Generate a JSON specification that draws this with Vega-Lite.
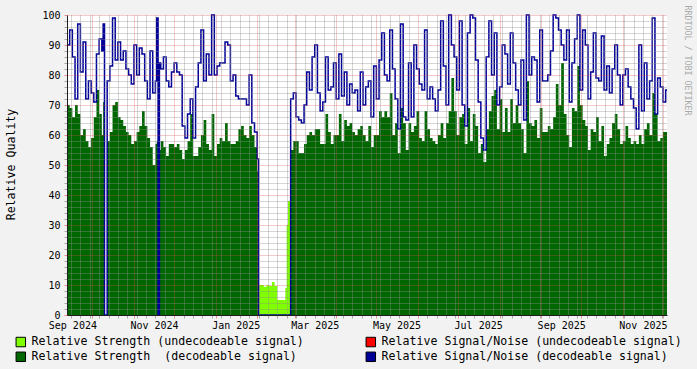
{
"$schema": "https://vega.github.io/schema/vega-lite/v6.json",
"width": 600, "height": 300,
"autosize": {"type": "none"},
"padding": {"left": 67, "top": 15, "right": 30, "bottom": 54},
"background": "#f2f2f2",
"config": {"view": {"fill": "#ffffff", "stroke": null}, "font": "DejaVu Sans Mono"},
"datasets": {
"main": [
{"date":"2024-09-12","strength":70,"snr":90},{"date":"2024-09-14","strength":69,"snr":95},{"date":"2024-09-16","strength":66,"snr":86},{"date":"2024-09-18","strength":70,"snr":72},{"date":"2024-09-20","strength":67,"snr":97},{"date":"2024-09-22","strength":60,"snr":81},{"date":"2024-09-24","strength":62,"snr":91},{"date":"2024-09-26","strength":58,"snr":72},{"date":"2024-09-28","strength":56,"snr":78},{"date":"2024-09-30","strength":59,"snr":74},
{"date":"2024-10-02","strength":66,"snr":71},{"date":"2024-10-04","strength":75,"snr":87},{"date":"2024-10-06","strength":67,"snr":92},{"date":"2024-10-08","strength":60,"snr":88},{"date":"2024-10-09","strength":71,"snr":97},{"date":"2024-10-10","strength":0,"snr":0},{"date":"2024-10-12","strength":58,"snr":78},{"date":"2024-10-14","strength":61,"snr":83},{"date":"2024-10-16","strength":70,"snr":99},{"date":"2024-10-18","strength":71,"snr":85},{"date":"2024-10-20","strength":66,"snr":91},{"date":"2024-10-22","strength":65,"snr":85},{"date":"2024-10-24","strength":63,"snr":88},{"date":"2024-10-26","strength":61,"snr":82},{"date":"2024-10-28","strength":60,"snr":80},{"date":"2024-10-30","strength":57,"snr":77},
{"date":"2024-11-01","strength":58,"snr":90},{"date":"2024-11-03","strength":61,"snr":80},{"date":"2024-11-05","strength":63,"snr":89},{"date":"2024-11-07","strength":68,"snr":87},{"date":"2024-11-09","strength":63,"snr":78},{"date":"2024-11-11","strength":59,"snr":72},{"date":"2024-11-13","strength":56,"snr":88},{"date":"2024-11-15","strength":50,"snr":74},{"date":"2024-11-17","strength":57,"snr":78},{"date":"2024-11-18","strength":58,"snr":99},{"date":"2024-11-19","strength":0,"snr":0},{"date":"2024-11-20","strength":55,"snr":84},{"date":"2024-11-21","strength":58,"snr":82},{"date":"2024-11-23","strength":56,"snr":86},{"date":"2024-11-25","strength":53,"snr":78},{"date":"2024-11-27","strength":57,"snr":76},{"date":"2024-11-29","strength":57,"snr":81},
{"date":"2024-12-01","strength":56,"snr":84},{"date":"2024-12-03","strength":57,"snr":81},{"date":"2024-12-05","strength":55,"snr":80},{"date":"2024-12-07","strength":52,"snr":63},{"date":"2024-12-09","strength":55,"snr":59},{"date":"2024-12-11","strength":58,"snr":67},{"date":"2024-12-13","strength":67,"snr":72},{"date":"2024-12-15","strength":53,"snr":59},{"date":"2024-12-17","strength":53,"snr":76},{"date":"2024-12-19","strength":56,"snr":84},{"date":"2024-12-21","strength":60,"snr":95},{"date":"2024-12-23","strength":65,"snr":78},{"date":"2024-12-25","strength":57,"snr":87},{"date":"2024-12-27","strength":55,"snr":80},{"date":"2024-12-29","strength":67,"snr":100},{"date":"2024-12-31","strength":53,"snr":80},
{"date":"2025-01-02","strength":57,"snr":83},{"date":"2025-01-04","strength":59,"snr":84},{"date":"2025-01-06","strength":58,"snr":84},{"date":"2025-01-08","strength":64,"snr":91},{"date":"2025-01-10","strength":58,"snr":90},{"date":"2025-01-12","strength":57,"snr":78},{"date":"2025-01-14","strength":57,"snr":80},{"date":"2025-01-16","strength":58,"snr":73},{"date":"2025-01-18","strength":62,"snr":72},{"date":"2025-01-20","strength":63,"snr":72},{"date":"2025-01-22","strength":60,"snr":72},{"date":"2025-01-24","strength":59,"snr":70},{"date":"2025-01-26","strength":63,"snr":80},{"date":"2025-01-28","strength":60,"snr":64},{"date":"2025-01-30","strength":56,"snr":61},
{"date":"2025-02-01","strength":48,"snr":52},{"date":"2025-02-02","strength":0,"snr":0},{"date":"2025-02-26","strength":55,"snr":72},{"date":"2025-02-28","strength":58,"snr":74},
{"date":"2025-03-02","strength":58,"snr":66},{"date":"2025-03-04","strength":54,"snr":65},{"date":"2025-03-06","strength":54,"snr":64},{"date":"2025-03-08","strength":57,"snr":70},{"date":"2025-03-10","strength":60,"snr":81},{"date":"2025-03-12","strength":61,"snr":75},{"date":"2025-03-14","strength":60,"snr":86},{"date":"2025-03-16","strength":62,"snr":90},{"date":"2025-03-18","strength":62,"snr":74},{"date":"2025-03-20","strength":57,"snr":68},{"date":"2025-03-22","strength":57,"snr":71},{"date":"2025-03-24","strength":67,"snr":86},{"date":"2025-03-26","strength":61,"snr":75},{"date":"2025-03-28","strength":57,"snr":76},{"date":"2025-03-30","strength":60,"snr":84},
{"date":"2025-04-01","strength":60,"snr":72},{"date":"2025-04-03","strength":67,"snr":87},{"date":"2025-04-05","strength":58,"snr":73},{"date":"2025-04-07","strength":65,"snr":81},{"date":"2025-04-09","strength":63,"snr":70},{"date":"2025-04-11","strength":64,"snr":77},{"date":"2025-04-13","strength":61,"snr":74},{"date":"2025-04-15","strength":60,"snr":75},{"date":"2025-04-17","strength":62,"snr":68},{"date":"2025-04-19","strength":63,"snr":81},{"date":"2025-04-21","strength":60,"snr":70},{"date":"2025-04-23","strength":58,"snr":76},{"date":"2025-04-25","strength":63,"snr":78},{"date":"2025-04-27","strength":56,"snr":66},{"date":"2025-04-29","strength":60,"snr":83},
{"date":"2025-05-01","strength":60,"snr":72},{"date":"2025-05-03","strength":68,"snr":85},{"date":"2025-05-05","strength":66,"snr":94},{"date":"2025-05-07","strength":68,"snr":80},{"date":"2025-05-09","strength":66,"snr":78},{"date":"2025-05-11","strength":74,"snr":95},{"date":"2025-05-13","strength":60,"snr":82},{"date":"2025-05-15","strength":64,"snr":72},{"date":"2025-05-17","strength":54,"snr":62},{"date":"2025-05-19","strength":69,"snr":97},{"date":"2025-05-21","strength":64,"snr":66},{"date":"2025-05-23","strength":55,"snr":65},{"date":"2025-05-25","strength":64,"snr":84},{"date":"2025-05-27","strength":61,"snr":66},{"date":"2025-05-29","strength":63,"snr":90},{"date":"2025-05-31","strength":68,"snr":82},
{"date":"2025-06-02","strength":59,"snr":77},{"date":"2025-06-04","strength":58,"snr":75},{"date":"2025-06-06","strength":68,"snr":95},{"date":"2025-06-08","strength":62,"snr":72},{"date":"2025-06-10","strength":59,"snr":76},{"date":"2025-06-12","strength":58,"snr":72},{"date":"2025-06-14","strength":57,"snr":68},{"date":"2025-06-16","strength":60,"snr":75},{"date":"2025-06-18","strength":64,"snr":98},{"date":"2025-06-20","strength":59,"snr":83},{"date":"2025-06-22","strength":64,"snr":70},{"date":"2025-06-24","strength":68,"snr":100},{"date":"2025-06-26","strength":79,"snr":90},{"date":"2025-06-28","strength":68,"snr":86},{"date":"2025-06-30","strength":60,"snr":75},
{"date":"2025-07-02","strength":66,"snr":98},{"date":"2025-07-04","strength":67,"snr":70},{"date":"2025-07-06","strength":57,"snr":63},{"date":"2025-07-08","strength":69,"snr":94},{"date":"2025-07-10","strength":58,"snr":100},{"date":"2025-07-12","strength":67,"snr":99},{"date":"2025-07-14","strength":63,"snr":85},{"date":"2025-07-16","strength":54,"snr":71},{"date":"2025-07-18","strength":57,"snr":59},{"date":"2025-07-20","strength":51,"snr":55},{"date":"2025-07-22","strength":62,"snr":86},{"date":"2025-07-24","strength":68,"snr":98},{"date":"2025-07-26","strength":73,"snr":80},{"date":"2025-07-28","strength":75,"snr":94},{"date":"2025-07-30","strength":62,"snr":70},
{"date":"2025-08-01","strength":72,"snr":76},{"date":"2025-08-03","strength":61,"snr":90},{"date":"2025-08-05","strength":69,"snr":87},{"date":"2025-08-07","strength":61,"snr":77},{"date":"2025-08-09","strength":72,"snr":94},{"date":"2025-08-11","strength":64,"snr":84},{"date":"2025-08-13","strength":70,"snr":75},{"date":"2025-08-15","strength":64,"snr":70},{"date":"2025-08-17","strength":62,"snr":85},{"date":"2025-08-19","strength":54,"snr":65},{"date":"2025-08-21","strength":78,"snr":100},{"date":"2025-08-23","strength":64,"snr":80},{"date":"2025-08-25","strength":63,"snr":86},{"date":"2025-08-27","strength":65,"snr":85},{"date":"2025-08-29","strength":59,"snr":71},{"date":"2025-08-31","strength":69,"snr":95},
{"date":"2025-09-02","strength":61,"snr":78},{"date":"2025-09-04","strength":61,"snr":78},{"date":"2025-09-06","strength":63,"snr":80},{"date":"2025-09-08","strength":62,"snr":88},{"date":"2025-09-10","strength":66,"snr":100},{"date":"2025-09-12","strength":77,"snr":99},{"date":"2025-09-14","strength":70,"snr":95},{"date":"2025-09-16","strength":84,"snr":90},{"date":"2025-09-18","strength":67,"snr":85},{"date":"2025-09-20","strength":60,"snr":95},{"date":"2025-09-22","strength":56,"snr":71},{"date":"2025-09-24","strength":69,"snr":84},{"date":"2025-09-26","strength":68,"snr":92},{"date":"2025-09-28","strength":83,"snr":100},{"date":"2025-09-30","strength":70,"snr":75},
{"date":"2025-10-02","strength":65,"snr":95},{"date":"2025-10-04","strength":63,"snr":90},{"date":"2025-10-06","strength":55,"snr":72},{"date":"2025-10-08","strength":62,"snr":81},{"date":"2025-10-10","strength":61,"snr":94},{"date":"2025-10-12","strength":66,"snr":79},{"date":"2025-10-14","strength":58,"snr":78},{"date":"2025-10-16","strength":63,"snr":93},{"date":"2025-10-18","strength":53,"snr":75},{"date":"2025-10-20","strength":57,"snr":83},{"date":"2025-10-22","strength":59,"snr":74},{"date":"2025-10-24","strength":64,"snr":82},{"date":"2025-10-26","strength":67,"snr":90},{"date":"2025-10-28","strength":62,"snr":80},{"date":"2025-10-30","strength":57,"snr":70},
{"date":"2025-11-01","strength":58,"snr":80},{"date":"2025-11-03","strength":63,"snr":82},{"date":"2025-11-05","strength":59,"snr":76},{"date":"2025-11-07","strength":57,"snr":72},{"date":"2025-11-09","strength":58,"snr":69},{"date":"2025-11-11","strength":57,"snr":62},{"date":"2025-11-13","strength":60,"snr":90},{"date":"2025-11-15","strength":57,"snr":68},{"date":"2025-11-17","strength":62,"snr":84},{"date":"2025-11-19","strength":64,"snr":72},{"date":"2025-11-21","strength":60,"snr":78},{"date":"2025-11-23","strength":74,"snr":99},{"date":"2025-11-25","strength":67,"snr":67},{"date":"2025-11-27","strength":58,"snr":79},{"date":"2025-11-29","strength":59,"snr":76},
{"date":"2025-12-01","strength":61,"snr":71},{"date":"2025-12-03","strength":61,"snr":75},{"date":"2025-12-04","strength":61,"snr":75}
],
"weak": [
{"date":"2025-02-02","strength":10},{"date":"2025-02-04","strength":10},{"date":"2025-02-06","strength":9.4},{"date":"2025-02-08","strength":10},{"date":"2025-02-10","strength":9.7},{"date":"2025-02-12","strength":11},{"date":"2025-02-14","strength":9.7},{"date":"2025-02-16","strength":5},{"date":"2025-02-22","strength":9},{"date":"2025-02-23","strength":30},{"date":"2025-02-24","strength":38},{"date":"2025-02-26","strength":0}
]
},
"resolve": {"axis": {"x": "independent", "y": "independent"}},
"layer": [
{
"data": {"name": "main"},
"mark": {"type": "area", "interpolate": "step-after", "opacity": 1},
"encoding": {
"x": {"field": "date", "type": "temporal",
"scale": {"type": "utc", "domain": [{"year":2024,"month":9,"date":12,"utc":true}, {"year":2025,"month":12,"date":4,"utc":true}]},
"axis": {
"orient": "bottom", "title": null, "zindex": 1, "labels": false,
"values": {"expr": "[utc(2024,9,1),utc(2024,10,1),utc(2024,11,1),utc(2025,0,1),utc(2025,1,1),utc(2025,2,1),utc(2025,3,1),utc(2025,4,1),utc(2025,5,1),utc(2025,6,1),utc(2025,7,1),utc(2025,8,1),utc(2025,9,1),utc(2025,10,1),utc(2025,11,1),utc(2024,8,15),utc(2024,8,22),utc(2024,8,29),utc(2024,8,36),utc(2024,8,43),utc(2024,8,50),utc(2024,8,57),utc(2024,8,64),utc(2024,8,71),utc(2024,8,78),utc(2024,8,85),utc(2024,8,99),utc(2024,8,106),utc(2024,8,113),utc(2024,8,120),utc(2024,8,127),utc(2024,8,134),utc(2024,8,141),utc(2024,8,148),utc(2024,8,155),utc(2024,8,162),utc(2024,8,169),utc(2024,8,176),utc(2024,8,183),utc(2024,8,190),utc(2024,8,197),utc(2024,8,204),utc(2024,8,211),utc(2024,8,218),utc(2024,8,225),utc(2024,8,232),utc(2024,8,239),utc(2024,8,246),utc(2024,8,253),utc(2024,8,260),utc(2024,8,267),utc(2024,8,281),utc(2024,8,288),utc(2024,8,295),utc(2024,8,302),utc(2024,8,309),utc(2024,8,316),utc(2024,8,323),utc(2024,8,330),utc(2024,8,337),utc(2024,8,344),utc(2024,8,351),utc(2024,8,358),utc(2024,8,365),utc(2024,8,372),utc(2024,8,379),utc(2024,8,386),utc(2024,8,393),utc(2024,8,400),utc(2024,8,407),utc(2024,8,414),utc(2024,8,421),utc(2024,8,428),utc(2024,8,435),utc(2024,8,442),utc(2024,8,449),utc(2024,8,456)]"},
"gridDash": [1, 1],
"gridColor": {"condition": {"test": "utcdate(datum.value) == 1", "value": "rgba(222,79,79,0.6)"}, "value": "rgba(143,143,143,0.75)"},
"tickSize": 3,
"tickColor": {"condition": {"test": "utcdate(datum.value) == 1", "value": "rgba(222,79,79,0.6)"}, "value": "rgba(143,143,143,0.75)"},
"domainColor": "#1f1f1f"
}},
"y": {"field": "strength", "type": "quantitative",
"scale": {"domain": [0, 100], "nice": false},
"axis": {
"orient": "left", "zindex": 1,
"values": [0,2,4,6,8,10,12,14,16,18,20,22,24,26,28,30,32,34,36,38,40,42,44,46,48,50,52,54,56,58,60,62,64,66,68,70,72,74,76,78,80,82,84,86,88,90,92,94,96,98,100],
"labelExpr": "datum.value % 10 == 0 ? datum.label : ''",
"labelFont": "DejaVu Sans Mono", "labelFontSize": 10, "labelColor": "#000000", "labelPadding": 4, "labelOverlap": false, "labelFlush": false,
"gridDash": [1, 1],
"gridColor": {"condition": {"test": "datum.value % 10 == 0", "value": "rgba(222,79,79,0.6)"}, "value": "rgba(143,143,143,0.75)"},
"tickColor": {"condition": {"test": "datum.value % 10 == 0", "value": "rgba(222,79,79,0.6)"}, "value": "rgba(143,143,143,0.75)"},
"tickSize": 3,
"domainColor": "#1f1f1f",
"title": "Relative Quality", "titleFont": "DejaVu Sans Mono", "titleFontSize": 11.6, "titleFontWeight": "normal", "titleColor": "#000000",
"titleX": -56, "titleY": 149, "titleAngle": -90, "titleAlign": "center", "titleBaseline": "middle"
}},
"color": {"datum": "Relative Strength \u00a0(decodeable signal)",
"scale": {"domain": ["Relative Strength (undecodeable signal)", "Relative Signal/Noise (undecodeable signal)", "Relative Strength \u00a0(decodeable signal)", "Relative Signal/Noise (decodeable signal)"], "range": ["#80ff00", "#ff0000", "#006600", "#000099"]},
"legend": {"title": null, "orient": "none", "legendX": -52, "legendY": 321, "columns": 2, "direction": "horizontal", "padding": 0,
"columnPadding": 60, "rowPadding": 1, "symbolType": "square", "symbolSize": 90, "symbolStrokeColor": "#000000", "symbolStrokeWidth": 1, "symbolOffset": 0,
"labelFont": "DejaVu Sans Mono", "labelFontSize": 11.6, "labelColor": "#000000", "labelLimit": 0, "labelOffset": 5,
"encode": {"symbols": {"update": {"stroke": {"value": "#000000"}, "strokeWidth": {"value": 1}, "opacity": {"value": 1}}}}}
}
}
},
{
"data": {"name": "weak"},
"mark": {"type": "area", "interpolate": "step-after", "opacity": 1},
"encoding": {
"x": {"field": "date", "type": "temporal", "axis": null},
"y": {"field": "strength", "type": "quantitative", "axis": null},
"color": {"datum": "Relative Strength (undecodeable signal)"}
}
},
{
"data": {"name": "main"},
"mark": {"type": "line", "interpolate": "step-after", "color": "#000099", "strokeWidth": 1.5, "strokeJoin": "miter"},
"encoding": {
"x": {"field": "date", "type": "temporal",
"axis": {"orient": "bottom", "title": null, "grid": false, "ticks": false, "domain": false,
"values": {"expr": "[utc(2024,8,16),utc(2024,10,16),utc(2025,0,16),utc(2025,2,16),utc(2025,4,16),utc(2025,6,16),utc(2025,8,16),utc(2025,10,16)]"},
"format": "%b %Y",
"labelFont": "DejaVu Sans Mono", "labelFontSize": 10, "labelColor": "#000000",
"labelAngle": 0, "labelFlush": false, "labelOverlap": false, "labelPadding": 5, "labelBound": false}},
"y": {"field": "snr", "type": "quantitative",
"axis": {"orient": "right", "labels": false, "ticks": false, "domain": false, "grid": false,
"title": "RRDTOOL / TOBI OETIKER", "titleAngle": 90, "titleX": 19, "titleY": -10, "titleAlign": "left", "titleBaseline": "middle",
"titleFont": "DejaVu Sans Mono", "titleFontSize": 8.3, "titleFontWeight": "normal", "titleColor": "#aaaaaa"}}
}
}
]
}
